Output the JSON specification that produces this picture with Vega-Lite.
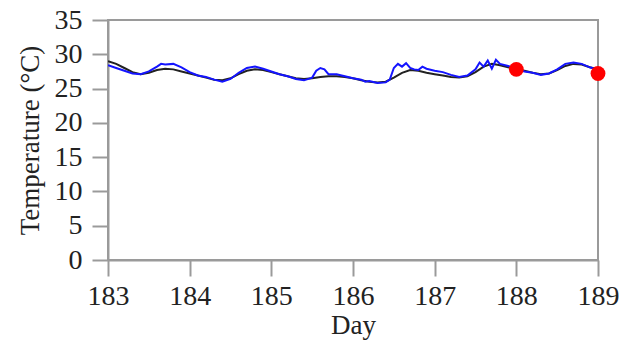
{
  "$schema": "https://vega.github.io/schema/vega-lite/v6.json",
  "width": 490,
  "height": 240,
  "autosize": "none",
  "padding": {"left": 108, "top": 20, "right": 22, "bottom": 86},
  "background": "white",
  "config": {
    "font": "Liberation Serif",
    "view": {"stroke": "#9a9a9a", "strokeWidth": 2},
    "axis": {
      "domainColor": "#9a9a9a", "domainWidth": 2,
      "tickColor": "#9a9a9a", "tickWidth": 2, "tickSize": 16,
      "labelFont": "Liberation Serif", "labelFontSize": 28, "labelColor": "#222",
      "labelOverlap": false, "labelFlush": false,
      "titleFont": "Liberation Serif", "titleFontSize": 27, "titleFontWeight": "normal", "titleColor": "#222",
      "grid": false
    }
  },
  "datasets": {
    "lines": [
      {"day":183.0,"temp":29.0,"series":"model"},{"day":183.1,"temp":28.6,"series":"model"},{"day":183.2,"temp":28.0,"series":"model"},{"day":183.3,"temp":27.4,"series":"model"},{"day":183.4,"temp":27.1,"series":"model"},{"day":183.5,"temp":27.3,"series":"model"},{"day":183.6,"temp":27.7,"series":"model"},{"day":183.7,"temp":27.9,"series":"model"},{"day":183.8,"temp":27.8,"series":"model"},{"day":183.9,"temp":27.5,"series":"model"},
      {"day":184.0,"temp":27.2,"series":"model"},{"day":184.1,"temp":26.9,"series":"model"},{"day":184.2,"temp":26.6,"series":"model"},{"day":184.3,"temp":26.3,"series":"model"},{"day":184.4,"temp":26.2,"series":"model"},{"day":184.5,"temp":26.5,"series":"model"},{"day":184.6,"temp":27.1,"series":"model"},{"day":184.7,"temp":27.6,"series":"model"},{"day":184.8,"temp":27.8,"series":"model"},{"day":184.9,"temp":27.7,"series":"model"},
      {"day":185.0,"temp":27.4,"series":"model"},{"day":185.1,"temp":27.1,"series":"model"},{"day":185.2,"temp":26.8,"series":"model"},{"day":185.3,"temp":26.5,"series":"model"},{"day":185.4,"temp":26.4,"series":"model"},{"day":185.5,"temp":26.5,"series":"model"},{"day":185.6,"temp":26.7,"series":"model"},{"day":185.7,"temp":26.8,"series":"model"},{"day":185.8,"temp":26.8,"series":"model"},{"day":185.9,"temp":26.7,"series":"model"},
      {"day":186.0,"temp":26.5,"series":"model"},{"day":186.1,"temp":26.2,"series":"model"},{"day":186.2,"temp":26.0,"series":"model"},{"day":186.3,"temp":25.9,"series":"model"},{"day":186.4,"temp":26.0,"series":"model"},{"day":186.5,"temp":26.6,"series":"model"},{"day":186.6,"temp":27.3,"series":"model"},{"day":186.7,"temp":27.7,"series":"model"},{"day":186.8,"temp":27.6,"series":"model"},{"day":186.9,"temp":27.3,"series":"model"},
      {"day":187.0,"temp":27.1,"series":"model"},{"day":187.1,"temp":26.9,"series":"model"},{"day":187.2,"temp":26.7,"series":"model"},{"day":187.3,"temp":26.6,"series":"model"},{"day":187.4,"temp":26.8,"series":"model"},{"day":187.5,"temp":27.4,"series":"model"},{"day":187.6,"temp":28.2,"series":"model"},{"day":187.7,"temp":28.6,"series":"model"},{"day":187.8,"temp":28.4,"series":"model"},{"day":187.9,"temp":28.1,"series":"model"},
      {"day":188.0,"temp":27.8,"series":"model"},{"day":188.1,"temp":27.6,"series":"model"},{"day":188.2,"temp":27.3,"series":"model"},{"day":188.3,"temp":27.1,"series":"model"},{"day":188.4,"temp":27.2,"series":"model"},{"day":188.5,"temp":27.7,"series":"model"},{"day":188.6,"temp":28.3,"series":"model"},{"day":188.7,"temp":28.6,"series":"model"},{"day":188.8,"temp":28.5,"series":"model"},{"day":188.9,"temp":28.1,"series":"model"},{"day":189.0,"temp":27.8,"series":"model"},

      {"day":183.0,"temp":28.4,"series":"obs"},{"day":183.1,"temp":28.0,"series":"obs"},{"day":183.2,"temp":27.6,"series":"obs"},{"day":183.3,"temp":27.2,"series":"obs"},{"day":183.4,"temp":27.1,"series":"obs"},{"day":183.5,"temp":27.5,"series":"obs"},{"day":183.6,"temp":28.2,"series":"obs"},{"day":183.65,"temp":28.6,"series":"obs"},{"day":183.7,"temp":28.5,"series":"obs"},{"day":183.8,"temp":28.6,"series":"obs"},{"day":183.9,"temp":28.1,"series":"obs"},
      {"day":184.0,"temp":27.4,"series":"obs"},{"day":184.1,"temp":26.9,"series":"obs"},{"day":184.2,"temp":26.7,"series":"obs"},{"day":184.3,"temp":26.3,"series":"obs"},{"day":184.4,"temp":26.0,"series":"obs"},{"day":184.5,"temp":26.4,"series":"obs"},{"day":184.6,"temp":27.3,"series":"obs"},{"day":184.7,"temp":28.0,"series":"obs"},{"day":184.8,"temp":28.2,"series":"obs"},{"day":184.9,"temp":27.9,"series":"obs"},
      {"day":185.0,"temp":27.5,"series":"obs"},{"day":185.1,"temp":27.1,"series":"obs"},{"day":185.2,"temp":26.8,"series":"obs"},{"day":185.3,"temp":26.4,"series":"obs"},{"day":185.4,"temp":26.2,"series":"obs"},{"day":185.5,"temp":26.6,"series":"obs"},{"day":185.55,"temp":27.6,"series":"obs"},{"day":185.6,"temp":28.0,"series":"obs"},{"day":185.65,"temp":27.8,"series":"obs"},{"day":185.7,"temp":27.1,"series":"obs"},{"day":185.8,"temp":27.1,"series":"obs"},{"day":185.9,"temp":26.8,"series":"obs"},
      {"day":186.0,"temp":26.5,"series":"obs"},{"day":186.1,"temp":26.3,"series":"obs"},{"day":186.15,"temp":26.0,"series":"obs"},{"day":186.2,"temp":26.1,"series":"obs"},{"day":186.3,"temp":25.8,"series":"obs"},{"day":186.4,"temp":25.9,"series":"obs"},{"day":186.45,"temp":26.3,"series":"obs"},{"day":186.5,"temp":28.0,"series":"obs"},{"day":186.55,"temp":28.6,"series":"obs"},{"day":186.6,"temp":28.2,"series":"obs"},{"day":186.65,"temp":28.7,"series":"obs"},{"day":186.7,"temp":28.0,"series":"obs"},{"day":186.75,"temp":27.8,"series":"obs"},{"day":186.8,"temp":27.7,"series":"obs"},{"day":186.85,"temp":28.2,"series":"obs"},{"day":186.9,"temp":27.9,"series":"obs"},
      {"day":187.0,"temp":27.6,"series":"obs"},{"day":187.1,"temp":27.4,"series":"obs"},{"day":187.2,"temp":27.0,"series":"obs"},{"day":187.3,"temp":26.7,"series":"obs"},{"day":187.4,"temp":26.9,"series":"obs"},{"day":187.5,"temp":27.8,"series":"obs"},{"day":187.55,"temp":28.8,"series":"obs"},{"day":187.6,"temp":28.2,"series":"obs"},{"day":187.65,"temp":29.1,"series":"obs"},{"day":187.7,"temp":27.9,"series":"obs"},{"day":187.75,"temp":29.2,"series":"obs"},{"day":187.8,"temp":28.6,"series":"obs"},{"day":187.9,"temp":28.3,"series":"obs"},
      {"day":188.0,"temp":27.9,"series":"obs"},{"day":188.1,"temp":27.5,"series":"obs"},{"day":188.2,"temp":27.3,"series":"obs"},{"day":188.3,"temp":27.0,"series":"obs"},{"day":188.4,"temp":27.2,"series":"obs"},{"day":188.5,"temp":27.8,"series":"obs"},{"day":188.6,"temp":28.6,"series":"obs"},{"day":188.7,"temp":28.8,"series":"obs"},{"day":188.8,"temp":28.6,"series":"obs"},{"day":188.9,"temp":28.1,"series":"obs"},{"day":189.0,"temp":27.7,"series":"obs"}
    ],
    "points": [
      {"day":188.0,"temp":27.8},
      {"day":189.0,"temp":27.2}
    ]
  },
  "encoding": {
    "x": {"field": "day", "type": "quantitative", "title": "Day",
          "scale": {"domain": [183, 189], "nice": false, "zero": false},
          "axis": {"values": [183,184,185,186,187,188,189], "format": "d", "labelPadding": 6, "titlePadding": 2}},
    "y": {"field": "temp", "type": "quantitative", "title": "Temperature (°C)",
          "scale": {"domain": [0, 35], "nice": false, "zero": true},
          "axis": {"values": [0,5,10,15,20,25,30,35], "tickCount": 8, "labelPadding": 10, "titlePadding": 10}}
  },
  "layer": [
    {
      "data": {"name": "lines"},
      "mark": {"type": "line", "strokeWidth": 2, "clip": true},
      "encoding": {
        "color": {"field": "series", "type": "nominal",
                  "scale": {"domain": ["model", "obs"], "range": ["#222222", "#1414ff"]},
                  "legend": null},
        "order": {"field": "day", "type": "quantitative"}
      }
    },
    {
      "data": {"name": "points"},
      "mark": {"type": "circle", "size": 220, "color": "#ff0000", "opacity": 1},
      "encoding": {}
    }
  ]
}
